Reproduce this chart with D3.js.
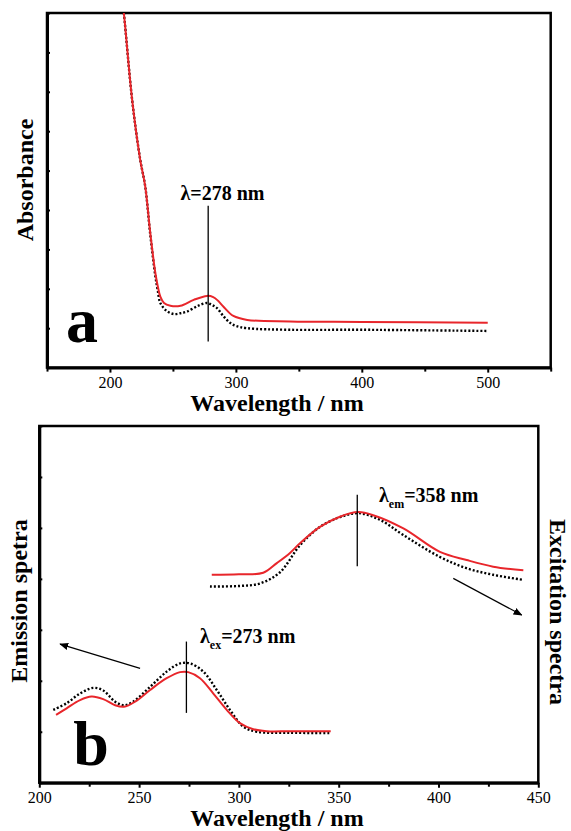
<!DOCTYPE html>
<html>
<head>
<meta charset="utf-8">
<script src="https://cdn.jsdelivr.net/npm/d3@7"></script>
<style>
  body { margin: 0; background: #fff; }
  svg { display: block; font-family: "Liberation Serif", "Times New Roman", serif; }
  .axis path, .axis line { stroke: #000; }
  .axis text { font-family: "Liberation Serif", serif; font-size: 16px; fill: #000; }
</style>
</head>
<body>
<div id="chart"></div>
<script>
// ---- panel a : absorbance ----
const wlRedA = [209, 211, 217.6, 224, 228, 232, 236, 238, 240, 242.9, 248, 256, 266.5, 277, 282, 286, 290, 298, 309, 343, 400, 500];
const absRedA = [9.5, 9.0, 6.8, 5.28, 4.6, 3.42, 2.41, 2.06, 1.80, 1.64, 1.57, 1.57, 1.72, 1.82, 1.79, 1.69, 1.55, 1.31, 1.21, 1.17, 1.16, 1.14];
const wlBlkA = [209, 211, 217.6, 224, 228, 232, 236, 238, 240, 245, 250.6, 256, 261, 270, 277, 281, 285, 290, 295.6, 300, 309, 343, 400, 500];
const absBlkA = [9.5, 9.0, 6.8, 5.28, 4.6, 3.38, 2.33, 1.95, 1.64, 1.44, 1.36, 1.38, 1.42, 1.57, 1.64, 1.59, 1.51, 1.31, 1.13, 1.06, 1.00, 0.96, 0.96, 0.93];
const ticksA = [200, 300, 400, 500];
const minorA = [150, 250, 350, 450, 550];

// ---- panel b : excitation (lower) and emission (upper) ----
const wlRedEx = [208.4, 213.7, 220.4, 226.2, 232, 238, 242.4, 248, 255.5, 263.8, 270.5, 274.6, 280.5, 287.2, 293.9, 300.5, 307.2, 313.9, 325.6, 346];
const intRedEx = [1.33, 1.46, 1.62, 1.69, 1.64, 1.52, 1.49, 1.59, 1.82, 2.05, 2.17, 2.17, 2.05, 1.75, 1.43, 1.17, 1.05, 1.01, 1.01, 1.01];
const wlBlkEx = [207, 213.7, 220.4, 227, 232, 238, 242.4, 247, 255.5, 263.8, 270.5, 275.5, 282.2, 288.9, 295.5, 302.2, 309, 325.6, 346];
const intBlkEx = [1.43, 1.56, 1.75, 1.86, 1.81, 1.59, 1.52, 1.59, 1.88, 2.18, 2.34, 2.34, 2.18, 1.82, 1.43, 1.10, 1.00, 0.98, 0.975];
const wlRedEm = [286.4, 300, 312.2, 319, 325.6, 330.6, 340.6, 350.6, 359.8, 367.3, 382.4, 400.7, 414.1, 427.4, 442.5];
const intRedEm = [4.08, 4.09, 4.12, 4.31, 4.51, 4.70, 5.02, 5.22, 5.31, 5.25, 4.99, 4.53, 4.37, 4.24, 4.17];
const wlBlkEm = [285.5, 300, 310.6, 320.6, 330.6, 340.6, 350.6, 359.8, 370.6, 382.4, 400.7, 414, 427.4, 442.5];
const intBlkEm = [3.85, 3.86, 3.91, 4.13, 4.66, 5.02, 5.21, 5.29, 5.16, 4.86, 4.43, 4.21, 4.08, 3.98];
const ticksB = [200, 250, 300, 350, 400, 450];
const minorB = [225, 275, 325, 375, 425];

const red = "#e8262b";

const svg = d3.select("#chart").append("svg")
    .attr("width", 571)
    .attr("height", 831);

function zip(xs, ys) { return xs.map((x, i) => [x, ys[i]]); }

function panel(box, xDomain, yMax, majors, minors) {
    const g = svg.append("g").attr("transform", `translate(${box.left}, ${box.top})`);
    const x = d3.scaleLinear().domain(xDomain).range([0, box.width]);
    const y = d3.scaleLinear().domain([0, yMax]).range([box.height, 0]);

    // frame (top and right)
    g.append("rect")
        .attr("width", box.width).attr("height", box.height)
        .attr("fill", "none").attr("stroke", "#000").attr("stroke-width", 2.5);

    // minor x ticks
    g.append("g").attr("class", "axis")
        .attr("transform", `translate(0, ${box.height})`)
        .call(d3.axisBottom(x).tickValues(minors).tickSize(4).tickFormat(""))
        .call(s => s.select(".domain").remove())
        .selectAll("line").attr("stroke-width", 2);

    // major x ticks
    const xa = g.append("g").attr("class", "axis")
        .attr("transform", `translate(0, ${box.height})`)
        .call(d3.axisBottom(x).tickValues(majors).tickSize(5).tickSizeOuter(0).tickPadding(4));
    xa.select(".domain").attr("stroke-width", 3);
    xa.selectAll("line").attr("stroke-width", 2);

    // left y ticks (inward, unlabelled)
    const ya = g.append("g").attr("class", "axis")
        .call(d3.axisLeft(y).ticks(yMax).tickSize(-3).tickSizeOuter(0).tickFormat(""));
    ya.select(".domain").attr("stroke-width", 3);
    ya.selectAll("line").attr("stroke-width", 2);

    return { g, x, y };
}

const line = (x, y) => d3.line().x(d => x(d[0])).y(d => y(d[1])).curve(d3.curveCatmullRom.alpha(0.5));

// ---------------- panel a ----------------
const A = panel({ left: 47, top: 13, width: 503.7, height: 354.6 }, [150, 550], 9, ticksA, minorA);

A.g.append("clipPath").attr("id", "clipA")
    .append("rect").attr("width", 503.7).attr("height", 354.6);

A.g.append("path")
    .datum(zip(wlBlkA, absBlkA))
    .attr("clip-path", "url(#clipA)")
    .attr("fill", "none").attr("stroke", "#000").attr("stroke-width", 2.4)
    .attr("stroke-dasharray", "2,2")
    .attr("d", line(A.x, A.y));

A.g.append("path")
    .datum(zip(wlRedA, absRedA))
    .attr("clip-path", "url(#clipA)")
    .attr("fill", "none").attr("stroke", red).attr("stroke-width", 2)
    .attr("d", line(A.x, A.y));

A.g.append("line")
    .attr("x1", A.x(278)).attr("x2", A.x(278))
    .attr("y1", A.y(4.11)).attr("y2", A.y(0.66))
    .attr("stroke", "#000").attr("stroke-width", 1.3);

A.g.append("text")
    .attr("x", A.x(256)).attr("y", A.y(4.26))
    .attr("font-size", 20).attr("font-weight", "bold")
    .text("λ=278 nm");

A.g.append("text")
    .attr("x", A.x(165)).attr("y", A.y(0.65))
    .attr("font-size", 64).attr("font-weight", "bold")
    .text("a");

svg.append("text")
    .attr("x", 277).attr("y", 411)
    .attr("text-anchor", "middle")
    .attr("font-size", 24).attr("font-weight", "bold")
    .text("Wavelength / nm");

svg.append("text")
    .attr("transform", "translate(33, 180) rotate(-90)")
    .attr("text-anchor", "middle")
    .attr("font-size", 24).attr("font-weight", "bold")
    .text("Absorbance");

// ---------------- panel b ----------------
const B = panel({ left: 39.3, top: 426, width: 499, height: 356.7 }, [200, 450], 7, ticksB, minorB);

[[wlBlkEx, intBlkEx], [wlBlkEm, intBlkEm]].forEach(([xs, ys]) => {
    B.g.append("path")
        .datum(zip(xs, ys))
        .attr("fill", "none").attr("stroke", "#000").attr("stroke-width", 2.4)
        .attr("stroke-dasharray", "2,2")
        .attr("d", line(B.x, B.y));
});
[[wlRedEx, intRedEx], [wlRedEm, intRedEm]].forEach(([xs, ys]) => {
    B.g.append("path")
        .datum(zip(xs, ys))
        .attr("fill", "none").attr("stroke", red).attr("stroke-width", 2)
        .attr("d", line(B.x, B.y));
});

// marker lines
B.g.append("line")
    .attr("x1", B.x(273.7)).attr("x2", B.x(273.7))
    .attr("y1", B.y(2.77)).attr("y2", B.y(1.37))
    .attr("stroke", "#000").attr("stroke-width", 1.3);
B.g.append("line")
    .attr("x1", B.x(359.3)).attr("x2", B.x(359.3))
    .attr("y1", B.y(5.65)).attr("y2", B.y(4.25))
    .attr("stroke", "#000").attr("stroke-width", 1.3);

function lambdaLabel(xv, yv, sub, rest) {
    const t = B.g.append("text")
        .attr("x", B.x(xv)).attr("y", B.y(yv))
        .attr("font-size", 20).attr("font-weight", "bold");
    t.append("tspan").text("λ");
    t.append("tspan").attr("font-size", 12).attr("dy", 6).text(sub);
    t.append("tspan").attr("dy", -6).text(rest);
}
lambdaLabel(280.5, 2.75, "ex", "=273 nm");
lambdaLabel(370.2, 5.51, "em", "=358 nm");

// arrows
svg.append("defs").append("marker")
    .attr("id", "head")
    .attr("viewBox", "0 0 10 10")
    .attr("refX", 9).attr("refY", 5)
    .attr("markerWidth", 9).attr("markerHeight", 9)
    .attr("markerUnits", "userSpaceOnUse")
    .attr("orient", "auto")
    .append("path").attr("d", "M0,1 L10,5 L0,9 Z").attr("fill", "#000");

const arrows = [
    { from: [250.5, 2.245], to: [210.4, 2.72] },
    { from: [407.4, 4.01], to: [441.7, 3.29] }
];
B.g.selectAll(".arrow").data(arrows).join("line")
    .attr("class", "arrow")
    .attr("x1", d => B.x(d.from[0])).attr("y1", d => B.y(d.from[1]))
    .attr("x2", d => B.x(d.to[0])).attr("y2", d => B.y(d.to[1]))
    .attr("stroke", "#000").attr("stroke-width", 1.2)
    .attr("marker-end", "url(#head)");

B.g.append("text")
    .attr("x", B.x(217)).attr("y", B.y(0.35))
    .attr("font-size", 64).attr("font-weight", "bold")
    .text("b");

svg.append("text")
    .attr("x", 277).attr("y", 826)
    .attr("text-anchor", "middle")
    .attr("font-size", 24).attr("font-weight", "bold")
    .text("Wavelength / nm");

svg.append("text")
    .attr("transform", "translate(27, 601) rotate(-90)")
    .attr("text-anchor", "middle")
    .attr("font-size", 24).attr("font-weight", "bold")
    .text("Emission spetra");

svg.append("text")
    .attr("transform", "translate(550, 612) rotate(90)")
    .attr("text-anchor", "middle")
    .attr("font-size", 24).attr("font-weight", "bold")
    .text("Excitation spectra");
</script>
</body>
</html>
